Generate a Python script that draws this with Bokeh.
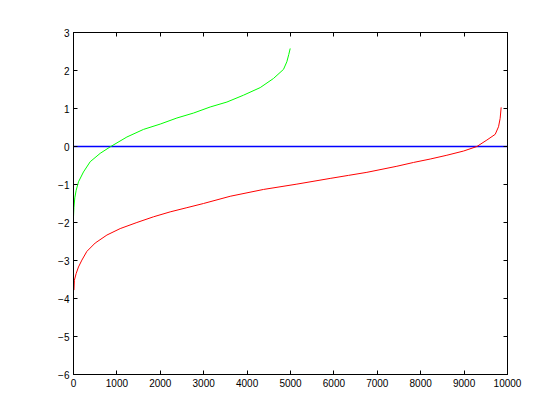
from bokeh.plotting import figure
from bokeh.models import Range1d, LinearAxis, FixedTicker
from bokeh.embed import file_html
from bokeh.resources import INLINE

# Data
green_x = [0, 10, 30, 62, 115, 230, 385, 615, 845, 1230, 1613, 1998, 2382,
           2765, 3150, 3535, 3917, 4302, 4608, 4839, 4916, 4960, 4993]
green_y = [-1.85, -1.6, -1.35, -1.15, -0.93, -0.67, -0.40, -0.18, -0.01, 0.25,
           0.45, 0.59, 0.75, 0.88, 1.04, 1.17, 1.35, 1.55, 1.79, 2.03, 2.23,
           2.42, 2.58]

red_x = [10, 20, 62, 115, 193, 308, 500, 770, 1076, 1460, 1843, 2228, 2612,
         2995, 3610, 4378, 5147, 5914, 6336, 6760, 7451, 7834, 8219, 8603,
         8986, 9295, 9525, 9717, 9793, 9831, 9854]
red_y = [-3.78, -3.52, -3.34, -3.17, -2.99, -2.76, -2.54, -2.33, -2.16, -2.0,
         -1.85, -1.72, -1.61, -1.50, -1.31, -1.13, -0.99, -0.84, -0.76, -0.68,
         -0.52, -0.42, -0.33, -0.23, -0.12, 0.0, 0.17, 0.32, 0.52, 0.74, 1.03]

zero_x = [0, 10000]
zero_y = [0, 0]

x_ticks = [0, 1000, 2000, 3000, 4000, 5000, 6000, 7000, 8000, 9000, 10000]
y_ticks = [-6, -5, -4, -3, -2, -1, 0, 1, 2, 3]

p = figure(width=552, height=412, output_backend="svg", toolbar_location=None,
           x_range=Range1d(0, 10000), y_range=Range1d(-6, 3),
           min_border_left=73, min_border_right=45, min_border_top=32,
           min_border_bottom=38)

p.xgrid.visible = False
p.ygrid.visible = False
p.outline_line_color = "black"
p.outline_line_width = 1
p.background_fill_color = "white"
p.border_fill_color = "white"

p.line(zero_x, zero_y, line_color="#0000ff", line_width=1.3)
p.line(green_x, green_y, line_color="#00ff00", line_width=1)
p.line(red_x, red_y, line_color="#ff0000", line_width=1)

font = "Liberation Sans"

def style(ax, labels=True):
    ax.axis_line_color = "black"
    ax.major_tick_in = 4
    ax.major_tick_out = 0
    ax.minor_tick_in = 0
    ax.minor_tick_out = 0
    ax.major_tick_line_color = "black"
    ax.major_label_text_font = font
    ax.major_label_text_font_size = "10px"
    ax.major_label_text_color = "black"
    ax.major_label_standoff = 4
    if not labels:
        ax.major_label_text_alpha = 0
        ax.major_label_text_font_size = "1px"

p.xaxis.ticker = FixedTicker(ticks=x_ticks)
p.yaxis.ticker = FixedTicker(ticks=y_ticks)
for ax in p.xaxis:
    style(ax)
for ax in p.yaxis:
    style(ax)

top = LinearAxis(ticker=FixedTicker(ticks=x_ticks))
style(top, labels=False)
p.add_layout(top, "above")
right = LinearAxis(ticker=FixedTicker(ticks=y_ticks))
style(right, labels=False)
p.add_layout(right, "right")

open("out.html", "w").write(file_html(p, INLINE))
